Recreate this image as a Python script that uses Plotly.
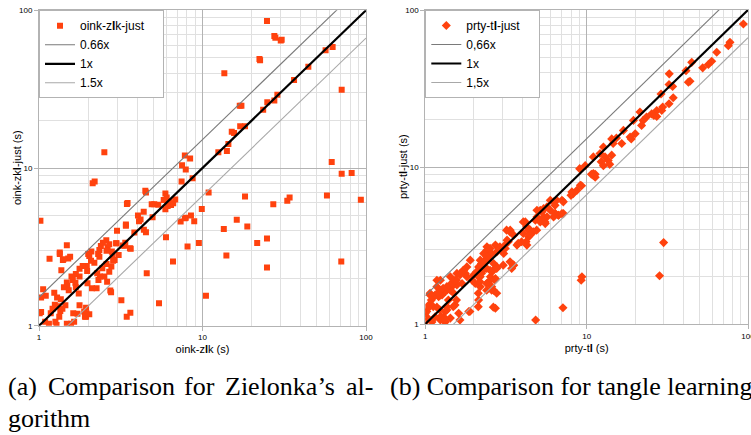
import plotly.graph_objects as go

# ---------------- data ----------------
zlk_x = [24.8, 27.5, 27.9, 30.1, 30.5, 22.3, 22.5, 13.6, 16.9, 17.3,
         56.6, 62.5, 44.4, 36.3, 71.0, 28.7, 24.9, 27.5, 23.5, 17.0,
         18.2, 15.1, 15.6, 14.4, 14.1, 12.5, 7.8, 8.4, 7.5, 7.9,
         8.7, 7.45, 61.7, 71.0, 81.7, 93.0, 57.7, 33.0, 34.1, 27.1,
         18.2, 10.9, 9.9, 16.2, 18.8, 13.5, 24.8, 21.6, 9.5, 8.1,
         14.0, 6.6, 24.8, 70.6, 4.56, 10.5, 5.42, 3.19, 3.62, 3.44,
         5.98, 7.35, 7.9, 8.5, 8.9, 7.8, 2.51, 2.13, 2.19, 1.02,
         4.51, 3.45, 5.93, 6.04, 5.07, 5.36, 5.79, 6.27, 6.42, 6.62,
         6.12, 5.93, 6.81, 4.37, 4.03, 4.18, 3.40, 3.0, 4.51, 3.64,
         4.89, 4.95, 4.09, 4.38, 3.83, 4.47, 3.48, 3.4, 3.6, 3.33,
         2.98, 2.58, 2.63, 2.59, 2.39, 2.34, 2.69, 2.30, 2.34, 2.09,
         2.03, 2.18, 2.46, 2.79, 2.96, 2.84, 3.25, 3.37, 3.07, 2.59,
         2.77, 2.44, 2.69, 2.51, 2.27, 2.31, 2.00, 2.08, 1.96, 1.97,
         1.85, 1.77, 1.68, 1.58, 1.61, 1.77, 1.49, 1.52, 1.42, 1.48,
         1.67, 1.68, 1.75, 1.51, 1.34, 1.16, 1.37, 1.55, 1.40, 1.06,
         1.03, 1.01, 1.03, 1.25, 1.21, 1.31, 1.35, 1.45, 1.36, 1.29,
         1.24, 1.39, 1.33, 1.18, 1.09, 1.15, 1.28, 1.26, 1.77, 1.94,
         2.03, 1.94, 1.89, 1.64, 1.57, 1.48, 1.72, 1.48, 1.34, 2.73,
         2.76, 2.61, 2.11, 2.25, 1.98, 2.36, 2.90, 2.82, 1.91, 1.95,
         1.62, 1.10, 1.41]
zlk_y = [85.6, 68.8, 67.0, 64.3, 65.0, 49.2, 48.3, 39.9, 24.8, 24.8,
         55.8, 58.6, 43.8, 36.2, 31.3, 29.1, 26.1, 26.8, 23.4, 18.4,
         18.4, 17.0, 16.7, 14.2, 12.8, 12.6, 12.0, 11.5, 10.4, 9.8,
         8.6, 8.2, 10.9, 9.2, 9.3, 6.3, 6.7, 6.2, 6.5, 5.9,
         6.6, 7.0, 5.5, 4.7, 4.26, 4.1, 3.57, 3.34, 3.35, 3.18,
         2.79, 2.55, 2.34, 2.55, 2.15, 1.55, 1.39, 1.45, 1.21, 1.14,
         3.64, 4.58, 4.83, 5.0, 4.59, 4.8, 12.6, 8.0, 8.2, 4.63,
         7.0, 5.91, 6.9, 6.5, 5.9, 5.85, 6.27, 6.12, 5.82, 5.97,
         5.74, 5.47, 6.31, 5.28, 4.99, 4.72, 4.39, 4.0, 3.91, 3.08,
         5.9, 4.88, 4.6, 4.06, 3.9, 7.17, 5.99, 4.3, 3.1, 3.21,
         3.33, 3.48, 3.14, 2.99, 3.20, 3.02, 3.28, 2.85, 2.74, 2.95,
         2.77, 2.51, 3.36, 2.95, 3.33, 2.58, 3.23, 3.36, 2.81, 2.46,
         2.37, 2.31, 2.20, 2.05, 2.15, 1.95, 2.85, 2.58, 2.39, 2.22,
         2.39, 2.30, 2.13, 2.05, 1.95, 2.05, 1.79, 1.68, 1.75, 1.88,
         1.87, 1.75, 1.60, 2.67, 2.85, 2.66, 2.25, 2.74, 2.61, 1.70,
         1.51, 1.20, 1.22, 1.36, 1.28, 1.33, 1.24, 1.35, 1.47, 1.51,
         1.62, 1.28, 1.14, 1.20, 1.06, 1.03, 1.01, 1.06, 1.35, 1.30,
         1.18, 1.14, 1.23, 1.06, 1.03, 1.03, 1.19, 3.24, 2.91, 1.67,
         1.63, 1.90, 1.73, 1.73, 1.86, 2.05, 2.61, 2.81, 1.14, 1.20,
         1.20, 1.55, 2.64]

tl_x = [93.6, 77.3, 75.5, 64.0, 59.6, 56.8, 52.4, 44.8, 41.3, 42.7,
        43.7, 32.5, 32.4, 34.1, 28.9, 34.4, 32.4, 29.6, 29.2, 27.2,
        26.1, 27.2, 25.3, 23.5, 22.4, 21.9, 21.4, 19.5, 18.6, 20.0,
        18.9, 16.9, 16.5, 15.3, 14.6, 14.3, 12.7, 12.1, 13.0, 13.6,
        14.3, 12.3, 12.7, 13.9, 11.0, 9.8, 11.0, 11.3, 9.3, 30.0,
        28.3, 9.35, 9.25, 7.13, 4.83, 9.05, 11.0, 11.3, 10.7, 9.14,
        8.1, 8.7, 7.03, 6.25, 5.95, 8.26, 8.0, 7.17, 6.37, 6.52,
        6.37, 7.17, 6.67, 5.52, 5.41, 5.16, 4.92, 5.29, 5.68, 4.92,
        4.81, 5.16, 5.68, 5.95, 6.39, 6.70, 7.03, 6.24, 5.41, 5.54,
        4.17, 4.47, 4.37, 4.26, 3.70, 3.53, 3.36, 3.21, 3.13, 3.06,
        3.53, 2.72, 2.53, 2.41, 2.35, 2.65, 2.78, 2.59, 2.53, 2.72,
        2.47, 2.65, 2.14, 2.09, 2.19, 2.04, 2.19, 1.95, 1.99, 1.81,
        1.77, 1.73, 1.65, 1.69, 1.57, 1.53, 1.46, 1.50, 1.36, 1.27,
        1.21, 1.15, 1.13, 1.07, 1.18, 1.24, 1.43, 1.57, 1.81, 1.90,
        2.19, 2.30, 2.41, 2.72, 2.14, 1.86, 1.61, 1.53, 1.36, 1.33,
        1.30, 1.24, 1.02, 1.02, 1.05, 1.0, 1.10, 1.15, 1.24, 1.33,
        1.43, 1.24, 1.33, 1.43, 4.05, 4.25, 4.35, 4.67, 4.90, 4.05,
        4.45, 4.21, 3.95, 3.77, 3.19, 3.35, 3.27, 3.12, 3.04, 2.90,
        2.77, 2.52, 2.58, 2.40, 2.46, 2.34, 2.23, 2.18, 2.08, 2.13,
        2.23, 2.29, 2.40, 2.52, 2.64, 2.77, 3.04, 3.35, 3.51, 3.43,
        2.70, 2.58, 2.40, 2.18, 2.40, 2.13, 2.58, 2.77, 1.72, 1.64,
        1.56, 1.49, 1.42, 1.36, 1.29, 1.23, 1.18, 1.20, 1.07, 1.09,
        1.04, 1.0, 1.12, 1.18, 1.23, 1.26, 1.29, 1.32, 1.36, 1.49,
        1.56, 1.89, 2.13, 2.64, 1.64, 1.39]
tl_y = [81.5, 62.2, 59.3, 53.8, 47.2, 45.0, 42.8, 46.4, 41.1, 34.7,
        35.2, 39.2, 33.5, 32.6, 29.2, 27.6, 25.3, 24.1, 22.9, 22.9,
        21.3, 21.0, 21.8, 20.8, 19.8, 18.4, 22.4, 19.8, 15.5, 16.3,
        15.1, 17.1, 14.1, 15.3, 14.1, 15.1, 13.4, 12.2, 11.6, 11.0,
        11.9, 10.8, 10.2, 10.4, 11.6, 10.2, 9.1, 8.6, 7.6, 3.3,
        2.03, 2.0, 1.9, 1.27, 1.06, 9.76, 8.85, 9.0, 9.0, 7.65,
        6.94, 7.1, 6.14, 6.0, 6.14, 6.77, 6.6, 6.0, 5.7, 6.14,
        5.05, 5.05, 4.93, 4.47, 5.43, 5.30, 5.30, 5.18, 5.57, 4.81,
        4.58, 4.47, 4.81, 5.30, 5.05, 4.93, 5.05, 4.81, 4.81, 4.36,
        4.47, 3.96, 3.59, 3.18, 3.18, 3.68, 3.96, 3.42, 3.03, 2.81,
        2.37, 3.18, 2.81, 2.95, 2.55, 2.43, 2.31, 2.15, 2.0, 1.95,
        1.86, 1.64, 2.31, 2.10, 2.0, 1.81, 1.73, 1.90, 2.05, 2.0,
        2.10, 2.20, 2.10, 1.81, 1.77, 1.90, 1.73, 1.57, 1.64, 1.53,
        1.49, 1.53, 1.49, 1.57, 1.73, 1.90, 2.0, 2.10, 2.31, 2.55,
        2.55, 2.81, 3.10, 1.26, 1.42, 1.20, 1.17, 1.32, 1.29, 1.20,
        1.11, 1.06, 1.11, 1.20, 1.32, 1.03, 1.03, 1.11, 1.11, 1.03,
        1.09, 1.53, 1.61, 1.64, 4.47, 4.16, 3.96, 3.86, 3.96, 3.77,
        3.68, 3.34, 3.34, 3.26, 3.96, 3.86, 3.34, 3.18, 3.03, 3.10,
        2.88, 3.03, 2.81, 2.68, 2.61, 2.49, 2.43, 2.31, 2.15, 2.0,
        2.10, 2.20, 2.26, 2.20, 2.20, 2.26, 2.37, 2.49, 2.37, 2.26,
        1.90, 1.73, 1.81, 1.86, 1.64, 1.57, 1.64, 1.57, 2.20, 2.05,
        1.90, 1.86, 1.77, 1.73, 1.69, 1.64, 1.90, 1.57, 1.53, 1.42,
        1.26, 1.17, 1.29, 1.28, 1.23, 1.11, 1.06, 1.06, 1.23, 1.29,
        1.42, 1.20, 1.29, 1.28, 1.06, 1.42]

ref_names = ["0.66x", "1x", "1.5x"]
ref_names_b = ["0,66x", "1x", "1,5x"]
ref_factors = [1 / 0.66, 1.0, 1 / 1.5]
ref_x = [1, 100]
major_ticks = [1, 10, 100]
major_labels = ["1", "10", "100"]
minor_ticks = [2, 3, 4, 5, 6, 7, 8, 9, 20, 30, 40, 50, 60, 70, 80, 90]

# ---------------- style ----------------
W, H = 751, 435
ORANGE = "#ff420e"
REF_STYLE = [dict(color="#7a7a7a", width=1.1), dict(color="#000000", width=2.2),
             dict(color="#a8a8a8", width=1.1)]
FONT = "Liberation Sans"
# invisible filler so the legend boxes get the reference width
PAD = '<span style="color:rgba(0,0,0,0)">__</span>'


def px_x(v):
    return v / W


def px_y(v):
    return 1 - v / H


fig = go.Figure()

panels = [
    dict(xs=zlk_x, ys=zlk_y, name="oink-z<b>l</b>k-just" + PAD, sym="square", size=6,
         names=ref_names, xa="x", ya="y", legend="legend"),
    dict(xs=tl_x, ys=tl_y, name="prty-t<b>l</b>-just" + PAD, sym="diamond", size=7,
         names=ref_names_b, xa="x2", ya="y2", legend="legend2"),
]
for p in panels:
    fig.add_trace(go.Scatter(x=p["xs"], y=p["ys"], mode="markers", name=p["name"],
                             marker=dict(symbol=p["sym"], size=p["size"], color=ORANGE,
                                         line=dict(width=0)),
                             xaxis=p["xa"], yaxis=p["ya"], legend=p["legend"]))
    for nm, f, st in zip(p["names"], ref_factors, REF_STYLE):
        fig.add_trace(go.Scatter(x=ref_x, y=[v * f for v in ref_x], mode="lines", name=nm,
                                 line=st, xaxis=p["xa"], yaxis=p["ya"],
                                 legend=p["legend"], hoverinfo="skip"))


def axis(domain, anchor, title=""):
    d = dict(type="log", range=[0, 2], domain=domain, anchor=anchor,
             tickvals=major_ticks, ticktext=major_labels,
             ticks="outside", ticklen=4, tickcolor="#b3b3b3",
             showline=True, linecolor="#b3b3b3", linewidth=1, mirror=True,
             showgrid=True, gridcolor="#b3b3b3", gridwidth=1, zeroline=False,
             minor=dict(tickvals=minor_ticks, showgrid=True, gridcolor="#e0e0e0",
                        gridwidth=1, ticks=""),
             tickfont=dict(size=8, color="#000", family=FONT),
             ticklabeloverflow="allow",
             automargin=False)
    if title:
        d["title"] = dict(text=title, font=dict(size=11, color="#000", family=FONT),
                          standoff=4)
    return d


fig.update_layout(
    width=W, height=H,
    margin=dict(l=0, r=0, t=0, b=0),
    paper_bgcolor="white", plot_bgcolor="white",
    font=dict(family=FONT, color="#000"),
    showlegend=True,
    xaxis=axis([px_x(39), px_x(366)], "y", "oink-z<b>l</b>k (s)"),
    yaxis=axis([px_y(325.7), px_y(10.3)], "x"),
    xaxis2=axis([px_x(425.3), px_x(748)], "y2", "prty-t<b>l</b> (s)"),
    yaxis2=axis([px_y(324), px_y(10)], "x2"),
    legend=dict(x=px_x(39), y=px_y(10.3), xanchor="left", yanchor="top",
                bgcolor="white", bordercolor="#b3b3b3", borderwidth=1,
                font=dict(size=12, family=FONT, color="#000"), tracegroupgap=0),
    legend2=dict(x=px_x(425.3), y=px_y(10), xanchor="left", yanchor="top",
                 bgcolor="white", bordercolor="#b3b3b3", borderwidth=1,
                 font=dict(size=12, family=FONT, color="#000"), tracegroupgap=0),
)

# vertical axis titles
ytitles = [("oink-zk<b>l</b>-just (s)", 17, 168), ("prty-t<b>l</b>-just (s)", 403, 167)]
for txt, xc, yc in ytitles:
    fig.add_annotation(text=txt, xref="paper", yref="paper", x=px_x(xc), y=px_y(yc),
                       xanchor="center", yanchor="middle", textangle=-90, showarrow=False,
                       font=dict(size=11, color="#000", family=FONT))

# captions: first line of (a) is justified, so its words are placed one by one
CAP = dict(family="Liberation Serif", size=26, color="#000")
caption_words = [
    ("(a)", 6, 386), ("Comparison", 46, 386), ("for", 182, 386),
    ("Zielonka’s", 223, 386), ("al-", 344, 386),
    ("gorithm", 6, 418),
    ("(b) Comparison for tangle learning", 388, 386),
]
for txt, x0, yc in caption_words:
    fig.add_annotation(text=txt, xref="paper", yref="paper", x=px_x(x0), y=px_y(yc),
                       xanchor="left", yanchor="middle", showarrow=False, font=CAP)

fig.write_html("out.html", config={"displayModeBar": False},
               post_script="document.body.style.margin='0';")
